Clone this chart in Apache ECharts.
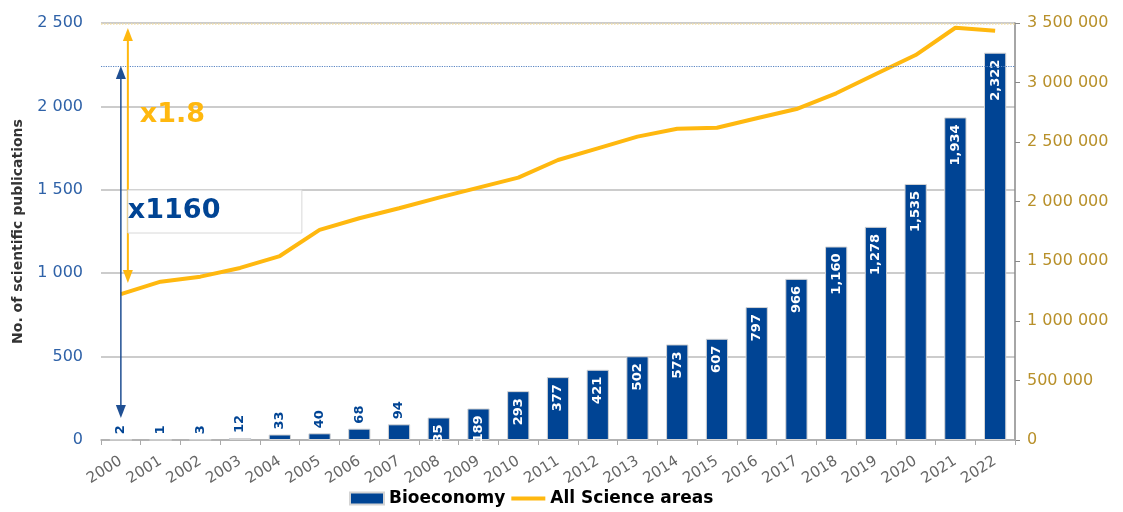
<!DOCTYPE html>
<html>
<head>
<meta charset="utf-8">
<script src="https://cdn.jsdelivr.net/npm/echarts@6/dist/echarts.min.js"></script>
<style>html,body{margin:0;padding:0;background:#fff}#c{width:1123px;height:512px}</style>
</head>
<body>
<div id="c"></div>
<script>
const years = ['2000','2001','2002','2003','2004','2005','2006','2007','2008','2009','2010','2011','2012','2013','2014','2015','2016','2017','2018','2019','2020','2021','2022'];
const bioeconomy = [2,1,3,12,33,40,68,94,135,189,293,377,421,502,573,607,797,966,1160,1278,1535,1934,2322];
const allScience = [1225000,1329000,1371000,1444000,1544000,1763000,1861000,1945000,2034000,2118000,2202000,2350000,2448000,2546000,2613000,2621000,2700000,2778000,2910000,3072000,3231000,3460000,3435000];
const seriesNames = ['Bioeconomy','All Science areas'];
const yAxisName = 'No. of scientific publications';
// annotation values (in data units)
const blueArrowTop = 2242, blueArrowBottom = 132;   // left axis
const yellowArrowTop = 3458000, yellowArrowBottom = 1318000; // right axis
const yellowDotted = 3490000;
const ratioBio = 'x1160', ratioAll = 'x1.8';

const FONT = 'DejaVu Sans';
const BLUE = '#004494', GOLD = '#FFB80F';
const spaceFmt = v => String(v).replace(/\B(?=(\d{3})+(?!\d))/g, ' ');
const commaFmt = v => String(v).replace(/\B(?=(\d{3})+(?!\d))/g, ',');

const insideLabel = {show:true, position:'insideTop', rotate:90, distance:7, align:'right', verticalAlign:'middle', color:'#fff', fontFamily:FONT, fontWeight:'bold', fontSize:13};
const outsideLabel = {show:true, position:'top', rotate:90, distance:5, align:'left', verticalAlign:'middle', color:BLUE, fontFamily:FONT, fontWeight:'bold', fontSize:13};

const chart = echarts.init(document.getElementById('c'), null, {renderer:'canvas'});
chart.setOption({
  animation:false,
  backgroundColor:'#fff',
  grid:{left:101, right:108, top:23, bottom:72, containLabel:false},
  legend:{
    bottom:0, left:344, itemGap:6, itemWidth:34, itemHeight:12,
    textStyle:{fontFamily:FONT, fontWeight:'bold', fontSize:17, color:'#000'},
    data:[
      {name:seriesNames[0], icon:'rect'},
      {name:seriesNames[1], icon:'path://M0,0L34,0L34,4L0,4Z', itemStyle:{color:GOLD}}
    ]
  },
  xAxis:{
    type:'category', data:years,
    axisLine:{lineStyle:{color:'#aaa', width:1.5}},
    axisTick:{show:true, length:5, lineStyle:{color:'#aaa'}},
    axisLabel:{rotate:32, color:'#666', fontFamily:FONT, fontSize:15, margin:20, interval:0}
  },
  yAxis:[
    {type:'value', min:0, max:2500, interval:500,
     name:yAxisName, nameLocation:'middle', nameGap:76, nameRotate:90,
     nameTextStyle:{fontFamily:FONT, fontWeight:'bold', fontSize:14, color:'#333'},
     axisLine:{show:false}, axisTick:{show:false},
     axisLabel:{formatter:spaceFmt, color:'#2F62A8', fontFamily:FONT, fontSize:16, margin:18},
     splitLine:{lineStyle:{color:'#bbb', width:1.5}}},
    {type:'value', min:0, max:3500000, interval:500000, position:'right',
     axisLine:{show:true, lineStyle:{color:'#888', width:1.5}},
     axisTick:{show:true, length:5, lineStyle:{color:'#888'}},
     axisLabel:{formatter:spaceFmt, color:'#B8902A', fontFamily:FONT, fontSize:16, margin:12},
     splitLine:{show:false}}
  ],
  series:[
    {name:seriesNames[0], type:'bar', yAxisIndex:0, barWidth:'56%',
     itemStyle:{color:BLUE, borderColor:'#d4d4d4', borderWidth:1},
     label:{formatter:p => commaFmt(p.value)},
     data:bioeconomy.map(v => ({value:v, label: v < 120 ? outsideLabel : insideLabel})),
     markLine:{silent:true, symbol:'none', label:{show:false},
       lineStyle:{color:'#5b86c4', type:'dotted', width:1.2},
       data:[{yAxis:blueArrowTop}]}
    },
    {name:seriesNames[1], type:'line', yAxisIndex:1, symbol:'none', z:3,
     lineStyle:{color:GOLD, width:4}, itemStyle:{color:GOLD},
     data:allScience,
     markLine:{silent:true, symbol:'none', label:{show:false},
       lineStyle:{color:'#f3dfa8', type:'dotted', width:1.5},
       data:[{yAxis:yellowDotted}]}
    }
  ]
});

function arrow(x, yTop, yBot, color, w) {
  return [
    {type:'line', z:50, shape:{x1:x, y1:yTop+8, x2:x, y2:yBot-8}, style:{stroke:color, lineWidth:w}},
    {type:'polygon', z:50, shape:{points:[[x,yTop],[x-5,yTop+13],[x+5,yTop+13]]}, style:{fill:color}},
    {type:'polygon', z:50, shape:{points:[[x,yBot],[x-5,yBot-13],[x+5,yBot-13]]}, style:{fill:color}}
  ];
}
const bt = chart.convertToPixel({seriesIndex:0}, [0, blueArrowTop]);
const bb = chart.convertToPixel({seriesIndex:0}, [0, blueArrowBottom]);
const yt = chart.convertToPixel({seriesIndex:1}, [0, yellowArrowTop]);
const yb = chart.convertToPixel({seriesIndex:1}, [0, yellowArrowBottom]);
const gx = yt[0] + 7;
const g = [].concat(
  arrow(bt[0], bt[1], bb[1], '#1f4f93', 1.5),
  arrow(gx, yt[1], yb[1], GOLD, 2),
  [
    {type:'rect', z:60, shape:{x:gx, y:190, width:174, height:43}, style:{fill:'#fff', stroke:'#d8d8d8', lineWidth:1}},
    {type:'text', z:61, x:gx, y:211, style:{text:ratioBio, fill:BLUE, font:'bold 27px "DejaVu Sans"', verticalAlign:'middle', align:'left'}},
    {type:'text', z:61, x:gx+12, y:115, style:{text:ratioAll, fill:GOLD, font:'bold 27px "DejaVu Sans"', verticalAlign:'middle', align:'left'}}
  ]
);
chart.setOption({graphic:g});
</script>
</body>
</html>
